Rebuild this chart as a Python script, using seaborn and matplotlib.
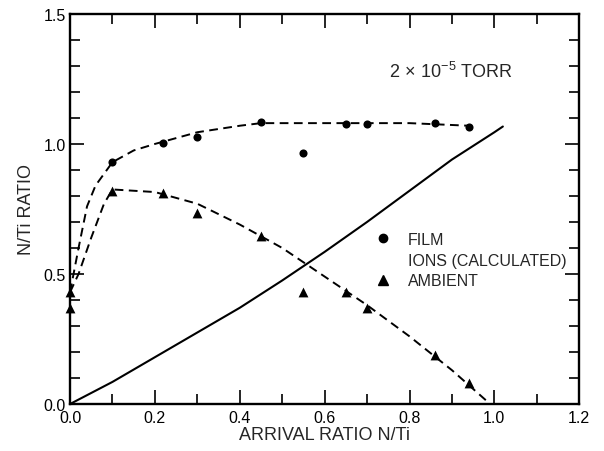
import matplotlib
matplotlib.use("Agg")
import matplotlib.pyplot as plt
from matplotlib.lines import Line2D
from matplotlib.ticker import MultipleLocator
import seaborn as sns

film_x = [0.10, 0.22, 0.30, 0.45, 0.55, 0.65, 0.70, 0.86, 0.94]
film_y = [0.93, 1.005, 1.025, 1.085, 0.965, 1.075, 1.075, 1.08, 1.065]

amb_x = [0.0, 0.0, 0.10, 0.22, 0.30, 0.45, 0.55, 0.65, 0.70, 0.86, 0.94]
amb_y = [0.43, 0.37, 0.82, 0.81, 0.735, 0.645, 0.43, 0.43, 0.37, 0.19, 0.08]

# dashed trend curves
film_fit_x = [0.0, 0.02, 0.04, 0.06, 0.10, 0.15, 0.20, 0.30, 0.40, 0.45, 0.60, 0.80, 0.94]
film_fit_y = [0.43, 0.60, 0.76, 0.84, 0.93, 0.975, 1.00, 1.045, 1.07, 1.08, 1.08, 1.08, 1.07]

amb_fit_x = [0.0, 0.02, 0.05, 0.08, 0.10, 0.20, 0.30, 0.40, 0.50, 0.60, 0.70, 0.80, 0.90, 0.99]
amb_fit_y = [0.43, 0.50, 0.64, 0.77, 0.825, 0.815, 0.77, 0.69, 0.60, 0.49, 0.38, 0.26, 0.13, 0.0]

# ions (calculated) solid line
ions_x = [0.0, 0.1, 0.2, 0.3, 0.4, 0.5, 0.6, 0.7, 0.8, 0.9, 1.0, 1.02]
ions_y = [0.0, 0.085, 0.18, 0.275, 0.37, 0.475, 0.585, 0.70, 0.82, 0.94, 1.045, 1.067]

legend_labels = ["FILM", "IONS (CALCULATED)", "AMBIENT"]

sns.set_style("ticks")
plt.rcParams["font.family"] = ["Liberation Sans", "DejaVu Sans"]
plt.rcParams["mathtext.fontset"] = "custom"
plt.rcParams["mathtext.rm"] = "Liberation Sans"
plt.rcParams["mathtext.it"] = "Liberation Sans:italic"

fig = plt.figure(figsize=(6.04, 4.52), dpi=100)
ax = fig.add_axes([0.116, 0.104, 0.843, 0.863])

dash = (0, (4.5, 2.8))
sns.lineplot(x=film_fit_x, y=film_fit_y, ax=ax, color="black", lw=1.4,
             linestyle=dash, sort=False, estimator=None)
sns.lineplot(x=amb_fit_x, y=amb_fit_y, ax=ax, color="black", lw=1.4,
             linestyle=dash, sort=False, estimator=None)
sns.lineplot(x=ions_x, y=ions_y, ax=ax, color="black", lw=1.5,
             sort=False, estimator=None)

sns.scatterplot(x=film_x, y=film_y, ax=ax, color="black", marker="o",
                s=34, edgecolor="black", linewidth=0, zorder=5, clip_on=False)
sns.scatterplot(x=amb_x, y=amb_y, ax=ax, color="black", marker="^",
                s=50, edgecolor="black", linewidth=0, zorder=5, clip_on=False)

ax.set_xlim(0, 1.2)
ax.set_ylim(0, 1.5)
ax.xaxis.set_major_locator(MultipleLocator(0.2))
ax.xaxis.set_minor_locator(MultipleLocator(0.1))
ax.yaxis.set_major_locator(MultipleLocator(0.5))
ax.yaxis.set_minor_locator(MultipleLocator(0.1))
ax.xaxis.set_major_formatter(lambda v, p: f"{v:.1f}")
ax.yaxis.set_major_formatter(lambda v, p: f"{v:.1f}")

ax.tick_params(which="both", direction="in", top=True, right=True,
               width=1.2, colors="black", labelsize=11.5)
ax.tick_params(which="major", length=10, pad=4)
ax.tick_params(which="minor", length=7)
ax.tick_params(axis="y", which="major", pad=3)

for s in ax.spines.values():
    s.set_linewidth(1.7)
    s.set_color("black")

ax.set_xlabel("ARRIVAL RATIO N/Ti", fontsize=13, labelpad=1)
ax.set_ylabel("N/Ti RATIO", fontsize=13, labelpad=6)

ax.text(0.752, 1.28, r"$\mathregular{2\,\times\,10^{-5}}$ TORR", fontsize=13,
        va="center", ha="left")

handles = [
    Line2D([], [], ls="none", marker="o", color="black", markersize=6),
    Line2D([], [], ls="none"),
    Line2D([], [], ls="none", marker="^", color="black", markersize=7),
]
ax.legend(handles, legend_labels, loc="center left",
          bbox_to_anchor=(0.598, 0.369), frameon=False, fontsize=11.5,
          handlelength=1.0, handletextpad=1.1, labelspacing=0.35,
          borderpad=0, borderaxespad=0)

fig.savefig("out.png", dpi=100)
